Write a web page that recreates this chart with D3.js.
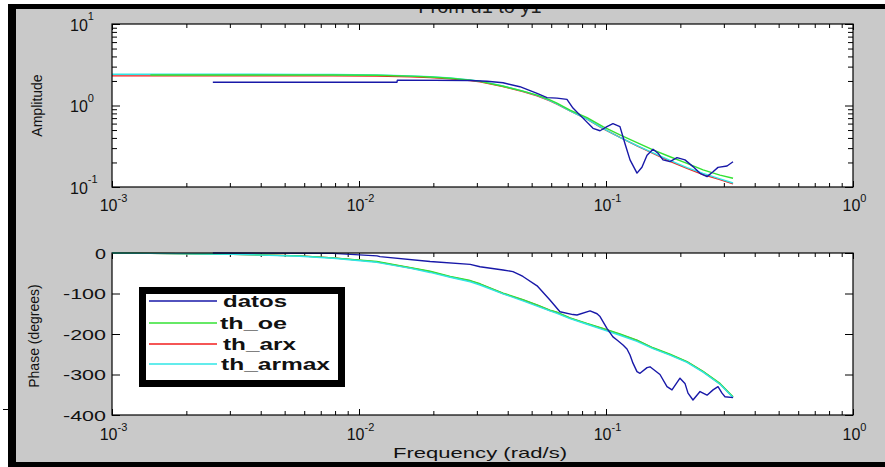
<!DOCTYPE html>
<html>
<head>
<meta charset="utf-8">
<script src="https://cdn.jsdelivr.net/npm/d3@7"></script>
<style>
  html, body { margin: 0; padding: 0; background: #fff; }
  svg { display: block; font-family: Arial, "Liberation Sans", Helvetica, sans-serif; }
</style>
</head>
<body>
<svg id="fig" width="885" height="467"></svg>
<script>
// ---- Bode data: identified models (shared frequency grid, rad/s) ----
const freqModel = [0.001, 0.00143, 0.00309, 0.00577, 0.00785, 0.0118, 0.0162, 0.0194, 0.0234, 0.0282,
  0.0309, 0.0383, 0.0461, 0.0526, 0.0593, 0.0633, 0.0715, 0.0838, 0.0972, 0.1139,
  0.1335, 0.155, 0.1816, 0.2128, 0.2471, 0.2894, 0.3268];

const ampOE    = [null, 2.37, 2.37, 2.37, 2.37, 2.35, 2.29, 2.24, 2.16, 2.05,
  1.98, 1.72, 1.50, 1.34, 1.17, 1.07, 0.88, 0.71, 0.55, 0.435,
  0.35, 0.285, 0.235, 0.195, 0.162, 0.140, 0.128];
const ampARX   = [2.31, 2.31, 2.31, 2.31, 2.31, 2.29, 2.25, 2.21, 2.13, 2.03,
  1.95, 1.71, 1.48, 1.31, 1.14, 1.04, 0.86, 0.68, 0.52, 0.405,
  0.32, 0.258, 0.207, 0.169, 0.142, 0.123, 0.109];
const ampARMAX = [2.42, 2.42, 2.42, 2.41, 2.40, 2.37, 2.31, 2.26, 2.18, 2.06,
  1.99, 1.74, 1.50, 1.33, 1.15, 1.05, 0.86, 0.68, 0.525, 0.405,
  0.322, 0.262, 0.212, 0.173, 0.147, 0.126, 0.112];

const phOE    = [0, -1, -3, -7, -12, -21, -36, -45, -58, -68,
  -76, -99, -115, -128, -141, -146, -160, -174, -186, -200,
  -215, -234, -250, -268, -292, -322, -355];
const phARX   = [0, -1, -3, -7, -12, -22, -37, -46, -59, -69,
  -77, -100, -116, -129, -142, -147, -161, -175, -187, -201,
  -216, -235, -251, -269, -293, -323, -356];
const phARMAX = [0, -1, -3, -8, -13, -23, -38, -48, -60, -71,
  -79, -101, -118, -131, -143, -149, -162, -176, -189, -203,
  -218, -236, -252, -270, -294, -324, -357];

// ---- Measured frequency response (datos) ----
const freqDatosAmp = [0.00256, 0.01425, 0.0143, 0.0282, 0.033, 0.0383, 0.0448, 0.0526, 0.0577, 0.0633,
  0.0695, 0.0735, 0.0807, 0.0886, 0.0946, 0.1009, 0.1067, 0.1139, 0.1194, 0.1251,
  0.1335, 0.1398, 0.1466, 0.155, 0.1624, 0.1701, 0.1816, 0.1938, 0.2088, 0.225,
  0.2403, 0.2565, 0.2712, 0.2841, 0.309, 0.3268];
const ampDatos = [1.93, 1.93, 2.05, 2.03, 1.98, 1.90, 1.70, 1.41, 1.25, 1.23,
  1.19, 0.93, 0.70, 0.525, 0.49, 0.55, 0.60, 0.55, 0.34, 0.215,
  0.148, 0.175, 0.245, 0.29, 0.26, 0.215, 0.205, 0.229, 0.215, 0.178,
  0.147, 0.134, 0.154, 0.174, 0.181, 0.204];

const freqDatosPh = [0.00256, 0.00785, 0.01183, 0.01216, 0.0194, 0.0282, 0.0309, 0.0383, 0.042, 0.0448,
  0.0461, 0.0526, 0.0593, 0.0651, 0.0735, 0.0763, 0.0862, 0.092, 0.0946, 0.1009,
  0.1067, 0.1108, 0.1172, 0.1216, 0.1251, 0.1286, 0.1335, 0.1373, 0.1466, 0.1507,
  0.1654, 0.1766, 0.185, 0.1993, 0.2088, 0.2148, 0.225, 0.2403, 0.2565, 0.2712,
  0.2841, 0.2949, 0.3032, 0.3268];
const phDatos = [0, -1, -7, -9, -21, -28, -34, -42, -46, -54,
  -58, -81, -116, -145, -152, -153, -143, -150, -157, -186,
  -207, -215, -227, -237, -252, -272, -293, -297, -283, -281,
  -300, -330, -338, -309, -322, -346, -363, -342, -351, -338,
  -330, -346, -355, -357];

// ---- Axis ticks ----
const xMajor = [1e-3, 1e-2, 1e-1, 1];
const ampMajor = [0.1, 1, 10];
const phaseTicks = [0, -100, -200, -300, -400];
const seriesNames = ["datos", "th_oe", "th_arx", "th_armax"];
const seriesColors = ["#1818a8", "#33e233", "#f01e1e", "#2fe6e6"];
const titleText = "From u1 to y1";

function logMinors(d0, d1) {
  const out = [];
  for (let d = d0; d < d1; d++) for (let k = 2; k <= 9; k++) out.push(k * Math.pow(10, d));
  return out;
}
const xMinor = logMinors(-3, 0);
const ampMinor = logMinors(-1, 1);

// ---- Layout ----
const L = 112, R = 853;
const topA = 24, botA = 187, topP = 253, botP = 415;

const svg = d3.select("#fig");

// figure background
svg.append("rect").attr("width", 885).attr("height", 467).attr("fill", "#fff");
svg.append("rect").attr("x", 8).attr("y", 4).attr("width", 877).attr("height", 463).attr("fill", "#c9c9c9");

// title (partly hidden under the window edge)
svg.append("text").attr("x", 480).attr("y", 13).attr("text-anchor", "middle")
  .attr("font-size", 20).attr("fill", "#222").text(titleText);

// window edges
svg.append("rect").attr("x", 8).attr("y", 4).attr("width", 877).attr("height", 5).attr("fill", "#000");
svg.append("rect").attr("x", 8).attr("y", 4).attr("width", 8).attr("height", 463).attr("fill", "#000");
svg.append("rect").attr("x", 8).attr("y", 462).attr("width", 877).attr("height", 5).attr("fill", "#000");
svg.append("rect").attr("x", 0).attr("y", 0).attr("width", 885).attr("height", 4).attr("fill", "#fff");
svg.append("line").attr("x1", 3).attr("x2", 9).attr("y1", 409.5).attr("y2", 409.5).attr("stroke", "#000");

// scales
const x = d3.scaleLog().domain([1e-3, 1]).range([L, R]);
const yAmp = d3.scaleLog().domain([0.1, 10]).range([botA, topA]);
const yPh = d3.scaleLinear().domain([-400, 0]).range([botP, topP]);

// plot areas
[[topA, botA], [topP, botP]].forEach(([t, b]) => {
  svg.append("rect").attr("x", L).attr("y", t).attr("width", R - L).attr("height", b - t).attr("fill", "#fff");
});

function tickAxis(axis, tf, values, size) {
  svg.append("g").attr("transform", tf)
    .call(axis.tickValues(values).tickSize(-size).tickFormat(""))
    .call(g => g.select(".domain").remove())
    .call(g => g.selectAll("line").attr("stroke", "#000").attr("stroke-width", 1));
}

// ticks: amplitude panel
tickAxis(d3.axisBottom(x), `translate(0,${botA})`, xMajor, 6);
tickAxis(d3.axisBottom(x), `translate(0,${botA})`, xMinor, 4);
tickAxis(d3.axisTop(x), `translate(0,${topA})`, xMajor, 6);
tickAxis(d3.axisTop(x), `translate(0,${topA})`, xMinor, 4);
tickAxis(d3.axisLeft(yAmp), `translate(${L},0)`, ampMajor, 8);
tickAxis(d3.axisLeft(yAmp), `translate(${L},0)`, ampMinor, 5);
tickAxis(d3.axisRight(yAmp), `translate(${R},0)`, ampMajor, 8);
tickAxis(d3.axisRight(yAmp), `translate(${R},0)`, ampMinor, 5);

// ticks: phase panel
tickAxis(d3.axisBottom(x), `translate(0,${botP})`, xMajor, 6);
tickAxis(d3.axisBottom(x), `translate(0,${botP})`, xMinor, 4);
tickAxis(d3.axisTop(x), `translate(0,${topP})`, xMajor, 6);
tickAxis(d3.axisTop(x), `translate(0,${topP})`, xMinor, 4);
tickAxis(d3.axisLeft(yPh), `translate(${L},0)`, phaseTicks, 8);
tickAxis(d3.axisRight(yPh), `translate(${R},0)`, phaseTicks, 8);

// power-of-ten labels
function powLabel(px, py, exp, anchor, supDy) {
  const t = svg.append("text").attr("x", px).attr("y", py).attr("text-anchor", anchor)
    .attr("font-size", 16).attr("fill", "#111");
  t.append("tspan").text("10");
  t.append("tspan").attr("dy", supDy).attr("font-size", 11).text(exp);
}
xMajor.forEach(v => {
  const e = Math.round(Math.log10(v));
  powLabel(x(v) + 1.5, botA + 24, String(e), "middle", -9);
  powLabel(x(v) + 1.5, botP + 25, String(e), "middle", -9);
});
ampMajor.forEach(v => {
  const e = Math.round(Math.log10(v));
  powLabel(70, yAmp(v) + 6.5, String(e), "start", -10.5);
});
phaseTicks.forEach(v => {
  const s = String(v);
  svg.append("text").attr("x", 106).attr("y", yPh(v) + 5.5).attr("text-anchor", "end")
    .attr("font-size", 14).attr("fill", "#111")
    .attr("textLength", s.length === 1 ? 11 : 43).attr("lengthAdjust", "spacingAndGlyphs")
    .text(s);
});

// axis titles
svg.append("text").attr("transform", "translate(42,105.5) rotate(-90)").attr("text-anchor", "middle")
  .attr("font-size", 14).attr("fill", "#111").text("Amplitude");
svg.append("text").attr("transform", "translate(39,336) rotate(-90)").attr("text-anchor", "middle")
  .attr("font-size", 14).attr("fill", "#111").text("Phase (degrees)");
svg.append("text").attr("x", 480).attr("y", 458).attr("text-anchor", "middle")
  .attr("font-size", 15).attr("fill", "#111")
  .attr("textLength", 174).attr("lengthAdjust", "spacingAndGlyphs").text("Frequency (rad/s)");

// curves
function drawLine(fs, vs, yScale, color) {
  const pts = fs.map((f, i) => [f, vs[i]]);
  const line = d3.line().defined(d => d[1] != null).x(d => x(d[0])).y(d => yScale(d[1]));
  svg.append("path").datum(pts).attr("d", line).attr("fill", "none")
    .attr("stroke", color).attr("stroke-width", 1.4).attr("stroke-linejoin", "round");
}
drawLine(freqModel, ampARX, yAmp, seriesColors[2]);
drawLine(freqModel, ampARMAX, yAmp, seriesColors[3]);
drawLine(freqModel, ampOE, yAmp, seriesColors[1]);
drawLine(freqDatosAmp, ampDatos, yAmp, seriesColors[0]);

drawLine(freqModel, phARX, yPh, seriesColors[2]);
drawLine(freqModel, phOE, yPh, seriesColors[1]);
drawLine(freqModel, phARMAX, yPh, seriesColors[3]);
drawLine(freqDatosPh, phDatos, yPh, seriesColors[0]);

// plot frames
[[topA, botA], [topP, botP]].forEach(([t, b]) => {
  svg.append("rect").attr("x", L).attr("y", t).attr("width", R - L).attr("height", b - t)
    .attr("fill", "none").attr("stroke", "#000").attr("stroke-width", 1.2);
});

// legend
const leg = svg.append("g");
leg.append("rect").attr("x", 142.5).attr("y", 290.5).attr("width", 199).attr("height", 93)
  .attr("fill", "#fff").attr("stroke", "#000").attr("stroke-width", 7);
const rowsY = [301, 323, 344, 364];
const textLens = [64, 67, 73, 109];
const textX = [223, 220, 223, 221];
seriesNames.forEach((n, i) => {
  leg.append("line").attr("x1", 149).attr("x2", 217).attr("y1", rowsY[i]).attr("y2", rowsY[i])
    .attr("stroke", seriesColors[i]).attr("stroke-width", 1.5);
  leg.append("text").attr("x", textX[i]).attr("y", rowsY[i] + 5.5)
    .attr("font-size", 16).attr("font-weight", "bold").attr("fill", "#111")
    .attr("textLength", textLens[i]).attr("lengthAdjust", "spacingAndGlyphs").text(n);
});
</script>
</body>
</html>
